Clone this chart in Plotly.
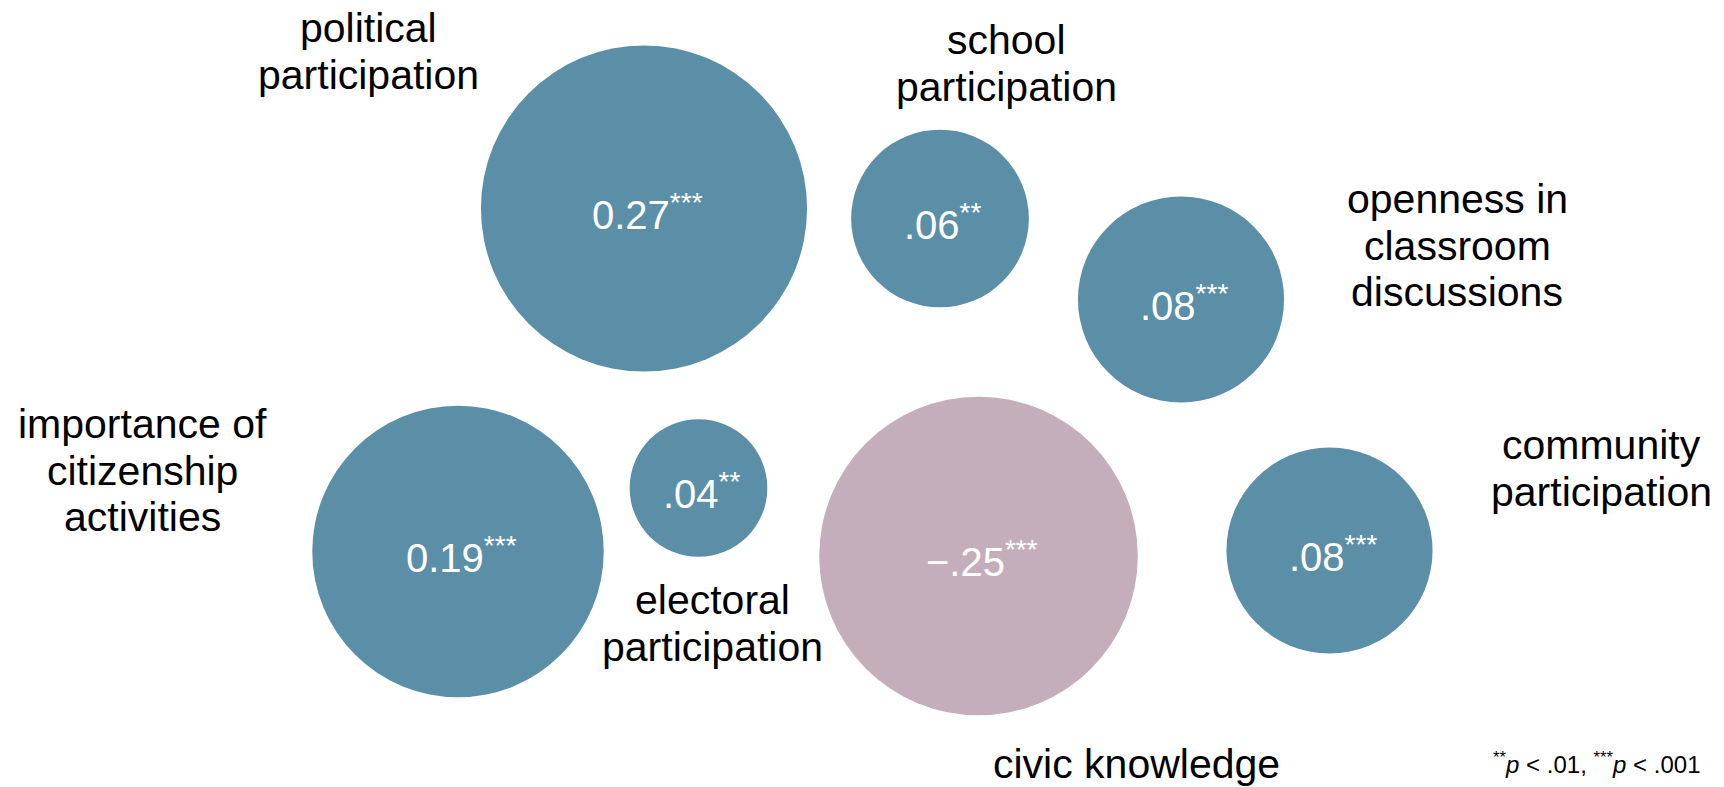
import math
import plotly.graph_objects as go

# ---- data ----
labels = [
    ["political", "participation"],
    ["school", "participation"],
    ["openness in", "classroom", "discussions"],
    ["importance of", "citizenship", "activities"],
    ["electoral", "participation"],
    ["civic knowledge"],
    ["community", "participation"],
]
values = [0.27, 0.06, 0.08, 0.19, 0.04, -0.25, 0.08]
value_text = ["0.27", ".06", ".08", "0.19", ".04", "\u2212.25", ".08"]
stars = ["***", "**", "***", "***", "**", "***", "***"]
bubble_x = [644, 940, 1181, 458, 698.5, 978.5, 1329.5]
bubble_y = [208.5, 218.5, 299.5, 551.5, 488, 556, 550.5]

# ---- layout / style ----
W, H = 1724, 787
FONT = "Liberation Sans, Arial, Helvetica, sans-serif"
POS_COLOR = "#5B8FA8"
NEG_COLOR = "#C5AEBC"
LABEL_SIZE = 41
VALUE_SIZE = 40
LINE_STEP = 46.5
# label anchors (center x, first-line center y), in chart coordinates
label_anchor = [
    (368, 28),
    (1006, 40),
    (1457, 199),
    (142, 424),
    (712, 600),
    (1136, 764),
    (1601, 445),
]


def radius(v):
    # logarithmic size scale (pixels)
    return 227.7 + 49.35 * math.log(abs(v))


fig = go.Figure()
fig.add_trace(go.Scatter(
    x=bubble_x,
    y=bubble_y,
    mode="markers",
    marker=dict(
        size=[2 * radius(v) for v in values],
        color=[POS_COLOR if v >= 0 else NEG_COLOR for v in values],
        line=dict(width=0),
        opacity=1,
    ),
    hoverinfo="skip",
    showlegend=False,
))

annotations = []
for bx, by, t, s in zip(bubble_x, bubble_y, value_text, stars):
    annotations.append(dict(
        x=bx, y=by, xref="x", yref="y", yshift=-3, xshift=3,
        text=f"{t}<sup>{s}</sup>", showarrow=False,
        xanchor="center", yanchor="middle",
        font=dict(family=FONT, size=VALUE_SIZE, color="white"),
    ))

for lines, (ax, ay) in zip(labels, label_anchor):
    for i, line in enumerate(lines):
        annotations.append(dict(
            x=ax, y=ay + i * LINE_STEP, xref="x", yref="y",
            text=line, showarrow=False, xanchor="center", yanchor="middle",
            font=dict(family=FONT, size=LABEL_SIZE, color="black"),
        ))

annotations.append(dict(
    x=1703, y=763, xref="x", yref="y",
    text="<sup>**</sup><i>p</i> &lt; .01, <sup>***</sup><i>p</i> &lt; .001",
    showarrow=False, xanchor="right", yanchor="middle",
    font=dict(family=FONT, size=24, color="black"),
))

fig.update_layout(
    width=W, height=H,
    margin=dict(l=0, r=0, t=0, b=0),
    paper_bgcolor="white", plot_bgcolor="white",
    xaxis=dict(range=[0, W], visible=False, fixedrange=True),
    yaxis=dict(range=[H, 0], visible=False, fixedrange=True),
    annotations=annotations,
)

fig.write_html(
    "out.html",
    config={"displayModeBar": False},
    post_script="document.body.style.margin='0';document.body.style.overflow='hidden';",
)
